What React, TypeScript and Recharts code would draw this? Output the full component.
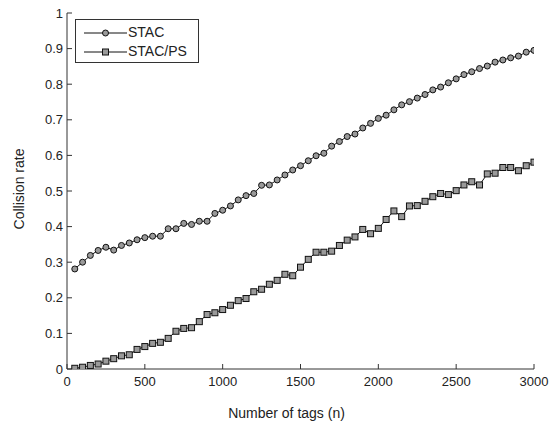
import React from "react";
import { Legend, Line, LineChart, XAxis, YAxis } from "recharts";

const ink = "#222";
const axisStroke = "#333";

// number of tags (x)
const tags = [
  50, 100, 150, 200, 250, 300, 350, 400, 450, 500,
  550, 600, 650, 700, 750, 800, 850, 900, 950, 1000,
  1050, 1100, 1150, 1200, 1250, 1300, 1350, 1400, 1450, 1500,
  1550, 1600, 1650, 1700, 1750, 1800, 1850, 1900, 1950, 2000,
  2050, 2100, 2150, 2200, 2250, 2300, 2350, 2400, 2450, 2500,
  2550, 2600, 2650, 2700, 2750, 2800, 2850, 2900, 2950, 3000,
];

// collision rate, STAC
const stac = [
  0.281, 0.3, 0.319, 0.333, 0.342, 0.334, 0.347, 0.354, 0.363, 0.369,
  0.373, 0.373, 0.394, 0.394, 0.409, 0.406, 0.415, 0.415, 0.437, 0.446,
  0.458, 0.475, 0.487, 0.493, 0.516, 0.517, 0.531, 0.545, 0.559, 0.571,
  0.585, 0.599, 0.606, 0.626, 0.639, 0.653, 0.66, 0.677, 0.69, 0.704,
  0.713, 0.728, 0.742, 0.751, 0.761, 0.771, 0.784, 0.792, 0.804, 0.815,
  0.827, 0.835, 0.844, 0.851, 0.862, 0.868, 0.874, 0.879, 0.89, 0.895,
];

// collision rate, STAC/PS
const stacPs = [
  0.002, 0.005, 0.01, 0.014, 0.022, 0.029, 0.037, 0.04, 0.055, 0.063,
  0.072, 0.075, 0.086, 0.106, 0.114, 0.116, 0.133, 0.153, 0.158, 0.167,
  0.179, 0.192, 0.198, 0.217, 0.224, 0.238, 0.249, 0.266, 0.262, 0.286,
  0.308, 0.328, 0.328, 0.331, 0.347, 0.362, 0.371, 0.392, 0.38, 0.395,
  0.42, 0.444, 0.428, 0.458, 0.459, 0.471, 0.484, 0.493, 0.49, 0.501,
  0.517, 0.526, 0.517, 0.548, 0.55, 0.566, 0.566, 0.557, 0.571, 0.581,
];

const xTicks = [0, 500, 1000, 1500, 2000, 2500, 3000];
const yTicks = [0, 0.1, 0.2, 0.3, 0.4, 0.5, 0.6, 0.7, 0.8, 0.9, 1];

const data = tags.map((n, i) => ({ n, stac: stac[i], stacPs: stacPs[i] }));

const markerFill = "#9a9a9a";

function SquareDot(props: any) {
  const { cx, cy, index } = props;
  if (cx == null || cy == null) return null;
  return (
    <rect key={`sq-${index}`} x={cx - 3} y={cy - 3} width={6} height={6}
      fill={markerFill} stroke="#111" strokeWidth={1} />
  );
}

function LegendBox() {
  const row = (label: string, square: boolean) => (
    <div style={{ display: "flex", alignItems: "center", height: 19 }}>
      <svg width={44} height={10} style={{ display: "block" }}>
        <line x1={1} y1={5} x2={44} y2={5} stroke="#111" strokeWidth={1} />
        {square
          ? <rect x={19.5} y={2} width={6} height={6} fill={markerFill} stroke="#111" />
          : <circle cx={22.5} cy={5} r={3} fill={markerFill} stroke="#111" />}
      </svg>
      <span style={{ marginLeft: 1 }}>{label}</span>
    </div>
  );
  return (
    <div style={{
      border: `1px solid ${axisStroke}`, background: "#fff", width: 115, height: 39,
      boxSizing: "content-box", padding: "3px 0 0 7px", fontSize: 14, color: ink, lineHeight: "19px",
    }}>
      {row("STAC", false)}
      {row("STAC/PS", true)}
    </div>
  );
}

export default function App() {
  return (
    <div style={{ position: "absolute", left: 0, top: 0, width: 554, height: 424, background: "#fff",
      fontFamily: "'Liberation Sans', Arial, sans-serif" }}>
      <LineChart width={554} height={424} data={data} margin={{ top: 13, right: 20, bottom: 0, left: 0 }}>
        <XAxis dataKey="n" type="number" domain={[0, 3000]} ticks={xTicks} allowDataOverflow
          height={55} tickSize={-5} tickMargin={13} axisLine={{ stroke: axisStroke }} tickLine={{ stroke: axisStroke }}
          tick={{ fill: ink, fontSize: 13 }}
          label={{ value: "Number of tags (n)", position: "insideBottom", offset: 6, dx: -14, fill: ink, fontSize: 14 }} />
        <XAxis xAxisId="top" orientation="top" type="number" domain={[0, 3000]} ticks={xTicks} allowDataOverflow
          height={0} tickSize={-5} tick={false} axisLine={{ stroke: axisStroke }} tickLine={{ stroke: axisStroke }} />
        <YAxis type="number" domain={[0, 1]} ticks={yTicks} allowDataOverflow width={67}
          tickSize={-5} tickMargin={9} axisLine={{ stroke: axisStroke }} tickLine={{ stroke: axisStroke }}
          tick={{ fill: ink, fontSize: 13 }}
          label={{ value: "Collision rate", angle: -90, position: "insideLeft", offset: 19, dy: -2, fill: ink, fontSize: 14,
            style: { textAnchor: "middle" } }} />
        <YAxis yAxisId="right" orientation="right" type="number" domain={[0, 1]} ticks={yTicks} allowDataOverflow
          width={0} tickSize={-5} tick={false} axisLine={{ stroke: axisStroke }} tickLine={{ stroke: axisStroke }} />
        <Legend layout="horizontal" verticalAlign="middle" align="center" content={() => <LegendBox />}
          wrapperStyle={{ left: 75, top: 19, width: 124, height: 44 }} />
        <Line dataKey="stac" name="STAC" stroke="#111" strokeWidth={1} isAnimationActive={false}
          dot={{ r: 3, fill: markerFill, stroke: "#111", strokeWidth: 1 }} />
        <Line dataKey="stacPs" name="STAC/PS" stroke="#111" strokeWidth={1} isAnimationActive={false}
          dot={(p: any) => <SquareDot {...p} key={`sq-${p.index}`} />} />
      </LineChart>
    </div>
  );
}
